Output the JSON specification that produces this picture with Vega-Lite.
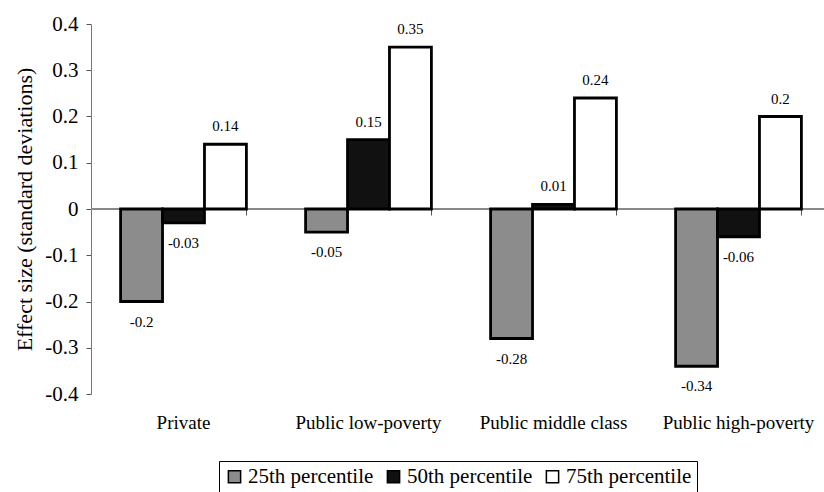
{
  "$schema": "https://vega.github.io/schema/vega-lite/v6.json",
  "autosize": "none",
  "width": 740,
  "height": 370,
  "padding": {"left": 91, "top": 24, "right": 0, "bottom": 98},
  "background": "white",
  "config": {
    "font": "Liberation Serif",
    "view": {"stroke": null}
  },
  "data": {
    "values": [
      {"school": "Private", "series": "25th percentile", "value": -0.2},
      {"school": "Private", "series": "50th percentile", "value": -0.03},
      {"school": "Private", "series": "75th percentile", "value": 0.14},
      {"school": "Public low-poverty", "series": "25th percentile", "value": -0.05},
      {"school": "Public low-poverty", "series": "50th percentile", "value": 0.15},
      {"school": "Public low-poverty", "series": "75th percentile", "value": 0.35},
      {"school": "Public middle class", "series": "25th percentile", "value": -0.28},
      {"school": "Public middle class", "series": "50th percentile", "value": 0.01},
      {"school": "Public middle class", "series": "75th percentile", "value": 0.24},
      {"school": "Public high-poverty", "series": "25th percentile", "value": -0.34},
      {"school": "Public high-poverty", "series": "50th percentile", "value": -0.06},
      {"school": "Public high-poverty", "series": "75th percentile", "value": 0.2}
    ]
  },
  "resolve": {"axis": {"x": "independent"}},
  "layer": [
    {
      "mark": {"type": "rule", "color": "#888", "strokeWidth": 1},
      "encoding": {"y": {"datum": 0, "type": "quantitative", "scale": {"domain": [-0.4, 0.4], "nice": false, "zero": false}}}
    },
    {
      "mark": {"type": "bar", "stroke": "black", "strokeWidth": 2.8},
      "encoding": {
        "x": {
          "field": "school", "type": "nominal", "sort": null,
          "scale": {"paddingInner": 0.32, "paddingOuter": 0.16},
          "axis": {"orient": "bottom", "title": null, "domain": false, "ticks": false, "labelAngle": 0, "labelFontSize": 19, "labelColor": "black", "labelPadding": 19, "labelFont": "Liberation Serif"}
        },
        "xOffset": {"field": "series", "type": "nominal", "scale": {"paddingInner": 0, "paddingOuter": 0}},
        "y": {
          "field": "value", "type": "quantitative",
          "scale": {"domain": [-0.4, 0.4], "nice": false, "zero": false},
          "axis": {
            "title": "Effect size (standard deviations)", "titleFontSize": 22, "titleFontWeight": "normal", "titleColor": "black", "titlePadding": 8,
            "values": [-0.4, -0.3, -0.2, -0.1, 0, 0.1, 0.2, 0.3, 0.4],
            "format": ".1~f", "labelExpr": "replace(datum.label, '\u2212', '-')",
            "labelFontSize": 21, "labelColor": "black", "labelPadding": 8,
            "grid": false, "domainColor": "#777", "tickColor": "#555", "tickSize": 5
          }
        },
        "fill": {
          "field": "series", "type": "nominal",
          "scale": {"domain": ["25th percentile", "50th percentile", "75th percentile"], "range": ["#8c8c8c", "#111111", "#ffffff"]},
          "legend": {
            "orient": "none", "legendX": 128, "legendY": 437, "direction": "horizontal", "title": null,
            "symbolType": "square", "symbolSize": 150, "symbolStrokeColor": "black", "symbolStrokeWidth": 1.5,
            "labelFontSize": 21, "labelColor": "black", "labelFont": "Liberation Serif", "columnPadding": 9, "symbolOffset": 0,
            "strokeColor": "black", "padding": 5, "labelOffset": 3
          }
        }
      }
    },
    {
      "transform": [{"filter": "datum.value >= 0"}],
      "mark": {"type": "text", "baseline": "bottom", "dy": -10, "fontSize": 15, "color": "black",
        "text": {"expr": "replace(format(datum.value, '.2~f'), '\u2212', '-')"}},
      "encoding": {
        "x": {"field": "school", "type": "nominal", "sort": null,
          "scale": {"paddingInner": 0.32, "paddingOuter": 0.16},
          "axis": {"orient": "top", "offset": -191, "title": null, "labels": false, "domain": false, "ticks": true, "tickBand": "extent", "tickSize": 6, "tickColor": "#555", "tickWidth": 1}},
        "xOffset": {"field": "series", "type": "nominal", "scale": {"paddingInner": 0, "paddingOuter": 0}},
        "y": {"field": "value", "type": "quantitative"}
      }
    },
    {
      "transform": [{"filter": "datum.value < 0"}],
      "mark": {"type": "text", "baseline": "top", "dy": 13, "fontSize": 15, "color": "black",
        "text": {"expr": "replace(format(datum.value, '.2~f'), '\u2212', '-')"}},
      "encoding": {
        "x": {"field": "school", "type": "nominal", "sort": null,
          "scale": {"paddingInner": 0.32, "paddingOuter": 0.16}, "axis": null},
        "xOffset": {"field": "series", "type": "nominal", "scale": {"paddingInner": 0, "paddingOuter": 0}},
        "y": {"field": "value", "type": "quantitative"}
      }
    }
  ]
}
